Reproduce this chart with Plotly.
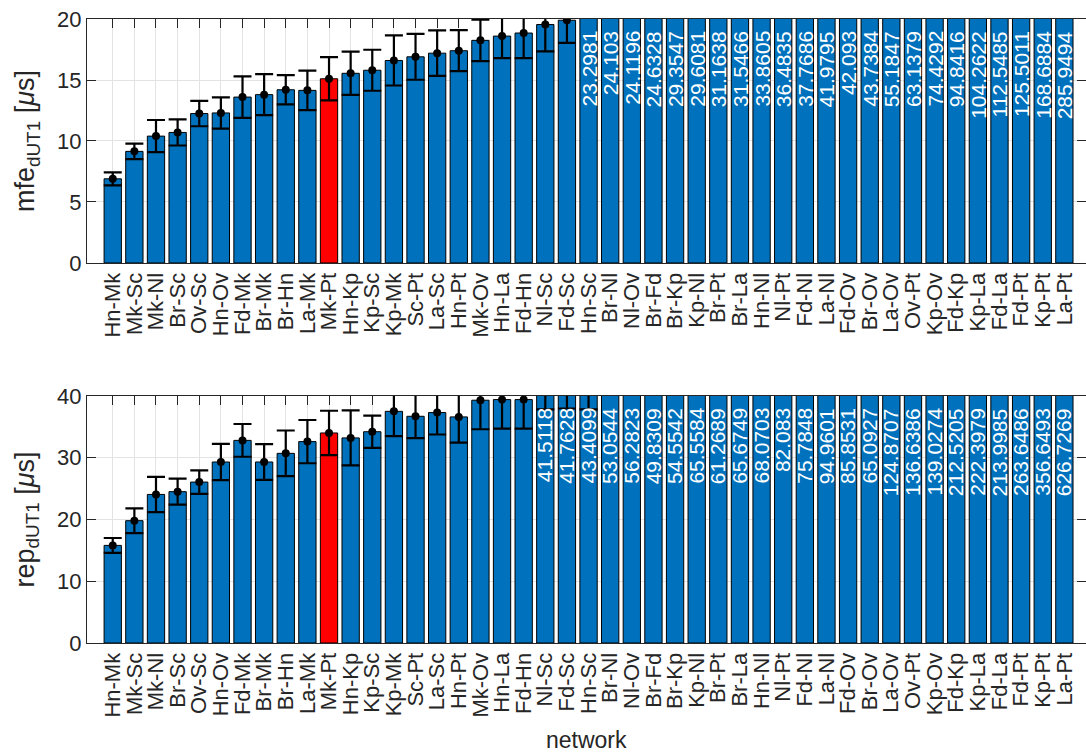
import plotly.graph_objects as go

# VLBI baseline networks, sorted by mfe
networks = ["Hn-Mk", "Mk-Sc", "Mk-Nl", "Br-Sc", "Ov-Sc", "Hn-Ov", "Fd-Mk", "Br-Mk", "Br-Hn",
            "La-Mk", "Mk-Pt", "Hn-Kp", "Kp-Sc", "Kp-Mk", "Sc-Pt", "La-Sc", "Hn-Pt", "Mk-Ov",
            "Hn-La", "Fd-Hn", "Nl-Sc", "Fd-Sc", "Hn-Sc", "Br-Nl", "Nl-Ov", "Br-Fd", "Br-Kp",
            "Kp-Nl", "Br-Pt", "Br-La", "Hn-Nl", "Nl-Pt", "Fd-Nl", "La-Nl", "Fd-Ov", "Br-Ov",
            "La-Ov", "Ov-Pt", "Kp-Ov", "Fd-Kp", "Kp-La", "Fd-La", "Fd-Pt", "Kp-Pt", "La-Pt"]
highlight = "Mk-Pt"

# mean formal error of dUT1 [us]
mfe = [6.9, 9.15, 10.4, 10.7, 12.25, 12.3, 13.6, 13.8, 14.2, 14.15, 15.1, 15.55, 15.8, 16.6,
       16.9, 17.2, 17.4, 18.25, 18.6, 18.85, 19.55, 19.9, 23.2981, 24.103, 24.1196, 24.6328,
       29.3547, 29.6081, 31.1638, 31.5466, 33.8605, 36.4835, 37.7686, 41.9795, 42.093, 43.7384,
       55.1847, 63.1379, 74.4292, 94.8416, 104.2622, 112.5485, 125.5011, 168.6884, 285.9494]
mfe_err = [0.53, 0.63, 1.32, 1.07, 1.04, 1.28, 1.7, 1.68, 1.2, 1.62, 1.77, 1.77, 1.68, 2.05,
           1.88, 1.86, 1.68, 1.7, 1.8, 2.05, 2.2, 1.85] + [None] * 23

# repeatability of dUT1 [us]
rep = [15.8, 19.8, 24.05, 24.5, 26.05, 29.3, 32.8, 29.3, 30.7, 32.6, 34.0, 33.2, 34.2, 37.5,
       36.7, 37.3, 36.6, 39.3, 39.4, 39.4, 41.5118, 41.7628, 43.4099, 53.0544, 56.2823, 49.8309,
       54.5542, 65.5584, 61.2689, 65.6749, 68.0703, 82.083, 75.7848, 94.9601, 85.8531, 65.0927,
       124.8707, 136.6386, 139.0274, 212.5205, 222.3979, 213.9985, 263.6486, 356.6493, 626.7269]
rep_err = [1.2, 2.0, 2.85, 2.1, 1.9, 2.95, 2.65, 2.9, 3.7, 3.5, 3.6, 4.45, 2.6, 4.0, 3.55,
           3.55, 4.15, 4.7, 4.7, 4.7, 3.7, 3.8, 5.6] + [None] * 22

mfe_ticks = [0, 5, 10, 15, 20]
rep_ticks = [0, 10, 20, 30, 40]

BLUE = "#0072BD"
RED = "#FF0000"
AX = "#262626"
GRID = "#E3E3E3"
FONT = "Liberation Sans"

bar_colors = [RED if n == highlight else BLUE for n in networks]

fig = go.Figure()


def add_panel(values, errors, xa, ya):
    fig.add_trace(go.Bar(
        x=networks, y=values, xaxis=xa, yaxis=ya, width=0.8,
        marker=dict(color=bar_colors, line=dict(color="black", width=1)),
        showlegend=False, hoverinfo="x+y"))
    idx = [i for i, e in enumerate(errors) if e is not None]
    fig.add_trace(go.Scatter(
        x=[networks[i] for i in idx], y=[values[i] for i in idx],
        xaxis=xa, yaxis=ya, mode="markers",
        marker=dict(color="black", size=8),
        error_y=dict(type="data", array=[errors[i] for i in idx],
                     color="black", thickness=2.2, width=9),
        showlegend=False, hoverinfo="skip"))


def fmt(v):
    s = f"{v:.4f}".rstrip("0")
    return s.rstrip(".")


def add_value_labels(values, ymax, xa, ya):
    for n, v in zip(networks, values):
        if v > ymax:
            fig.add_annotation(
                x=n, y=ymax, xref=xa, yref=ya, text=fmt(v), showarrow=False,
                textangle=-90, xanchor="center", yanchor="top", yshift=-10,
                font=dict(family=FONT, size=21, color="white"))


add_panel(mfe, mfe_err, "x", "y")
add_panel(rep, rep_err, "x2", "y2")
add_value_labels(mfe, mfe_ticks[-1], "x", "y")
add_value_labels(rep, rep_ticks[-1], "x2", "y2")

xcommon = dict(
    type="category", categoryorder="array", categoryarray=networks,
    tickmode="array", tickvals=networks, ticktext=networks,
    range=[-1.19, 45.0], showgrid=True, gridcolor=GRID, gridwidth=1,
    showline=True, linecolor=AX, linewidth=1, mirror="allticks",
    ticks="inside", ticklen=9, tickcolor=AX, tickwidth=1,
    tickangle=-90, tickfont=dict(family=FONT, size=22, color=AX),
    layer="below traces", zeroline=False, fixedrange=True)
ycommon = dict(
    showgrid=True, gridcolor=GRID, gridwidth=1,
    showline=True, linecolor=AX, linewidth=1, mirror="allticks",
    ticks="inside", ticklen=9, tickcolor=AX, tickwidth=1,
    tickfont=dict(family=FONT, size=22, color=AX),
    layer="below traces", zeroline=False, fixedrange=True)

fig.update_layout(
    width=1086, height=754,
    margin=dict(l=87, r=0, t=19, b=111),
    paper_bgcolor="white", plot_bgcolor="white",
    bargap=0.2,
    xaxis=dict(xcommon, domain=[0, 1], anchor="y"),
    yaxis=dict(ycommon, domain=[0.609, 1.0], anchor="x",
               range=[0, mfe_ticks[-1]], tickvals=mfe_ticks),
    xaxis2=dict(xcommon, domain=[0, 1], anchor="y2"),
    yaxis2=dict(ycommon, domain=[0.0, 0.396], anchor="x2",
                range=[0, rep_ticks[-1]], tickvals=rep_ticks),
)

# axis titles
fig.add_annotation(x=-0.06, y=0.8045, xref="paper", yref="paper", showarrow=False,
                   text="mfe<sub>dUT1</sub> [<i>μ</i>s]", textangle=-90,
                   xanchor="center", yanchor="middle",
                   font=dict(family=FONT, size=27, color=AX))
fig.add_annotation(x=-0.06, y=0.198, xref="paper", yref="paper", showarrow=False,
                   text="rep<sub>dUT1</sub> [<i>μ</i>s]", textangle=-90,
                   xanchor="center", yanchor="middle",
                   font=dict(family=FONT, size=27, color=AX))
fig.add_annotation(x=0.5, y=-0.155, xref="paper", yref="paper", showarrow=False,
                   text="network", xanchor="center", yanchor="middle",
                   font=dict(family=FONT, size=23, color=AX))

fig.write_html("out.html")
